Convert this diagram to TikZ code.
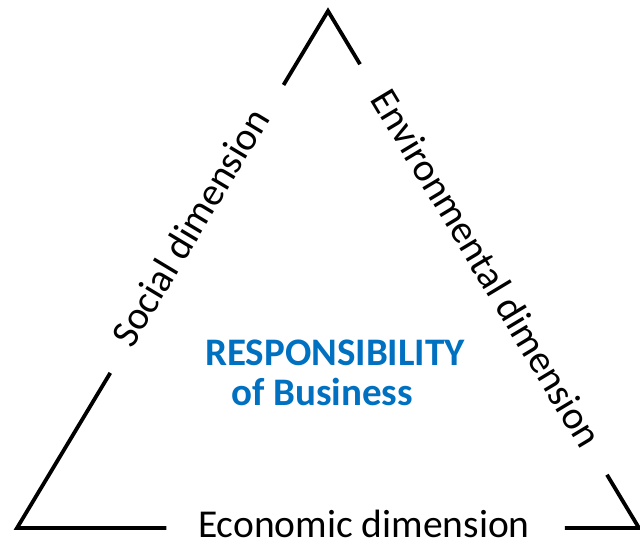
\documentclass[tikz,border=0pt]{standalone}
\usepackage{fontspec}
\setmainfont{Carlito}
\usetikzlibrary{calc}
\definecolor{bizblue}{RGB}{0,112,192}
\tikzset{
  side/.style={line width=3.8pt, line cap=butt, line join=miter},
  dimlabel/.style={inner sep=0pt, text=black, font=\fontsize{39.5}{46}\selectfont},
  centrelabel/.style={inner sep=0pt, text=bizblue, font=\fontsize{39}{46}\selectfont\bfseries}
}
\begin{document}
\begin{tikzpicture}[x=1pt,y=-1pt]
\useasboundingbox (0,0) rectangle (640,544);
\coordinate (A) at (328,11);
\coordinate (B) at (17,528);
\coordinate (C) at (639,528);
% triangle sides, broken where the labels sit
\draw[side] ($(B)!0.30!(A)$) -- (B) -- ($(B)!0.24!(C)$);
\draw[side] ($(B)!0.857!(A)$) -- (A) -- ($(A)!0.103!(C)$);
\draw[side] ($(A)!0.897!(C)$) -- (C) -- ($(B)!0.881!(C)$);
% labels
\node[dimlabel, rotate=59] (social) at (190,227) {Social dimension};
\node[dimlabel, rotate=-59] (env) at (487,268) {Environmental dimension};
\node[dimlabel] (econ) at (364,524) {Economic dimension};
\node[centrelabel] (resp) at (335,353) {RESPONSIBILITY};
\node[centrelabel] (biz) at (322,392) {of Business};
\end{tikzpicture}
\end{document}
